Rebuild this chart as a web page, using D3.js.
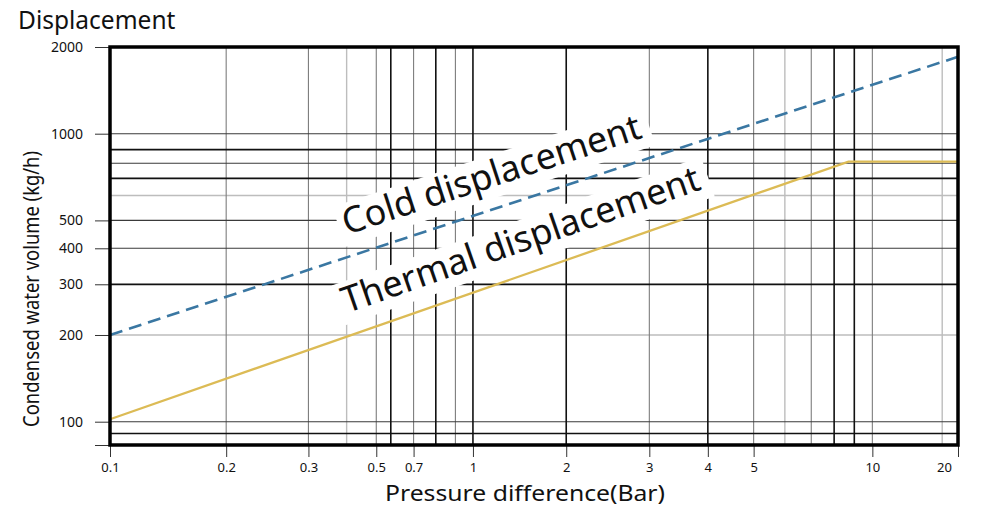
<!DOCTYPE html>
<html>
<head>
<meta charset="utf-8">
<title>Displacement</title>
<script src="https://cdn.jsdelivr.net/npm/d3@7"></script>
<style>
  body { margin: 0; background: #fff; }
  svg text { font-family: "Noto Sans", "Open Sans", sans-serif; fill: #111; }
</style>
</head>
<body>
<svg id="chart" width="982" height="507"></svg>
<script>
// axis ticks
var xTicks = [0.1, 0.2, 0.3, 0.5, 0.7, 1, 2, 3, 4, 5, 10, 20];
var yTicks = [100, 200, 300, 400, 500, 1000, 2000];
var yMin = 83, yMax = 2000;

// grid lines as printed on the sheet (axis units)
var xGridLight = [0.4, 6, 17.6];
var xGridMid = [0.2, 0.3, 0.5, 0.7, 0.9, 3, 5, 7, 10];
var xGridBold = [0.57, 0.8, 1, 2, 4, 8, 9];
var yGridLight = [610, 200];
var yGridMid = [1000, 790, 500, 400, 100];
var yGridBold = [880, 700, 300, 91];

// series
var coldPressure = [0.1, 20];
var coldFlow = [200, 1850];
var thermalPressure = [0.1, 8.7, 20];
var thermalFlow = [102, 800, 800];

var plot = { left: 110, right: 958, top: 47, bottom: 445 };
plot.width = plot.right - plot.left;

var svg = d3.select("#chart");

// the printed pressure axis is a stretched log scale, so go piecewise through the ticks
var xStretch = [0, .137, .234, .314, .358, .428, .538, .636, .705, .759, .899, 1];
var x = d3.scaleLog()
  .domain(xTicks)
  .range(xStretch.map(function(f) { return plot.left + f * plot.width; }));

var y = d3.scaleLog()
  .domain([yMin, yMax])
  .range([plot.bottom, plot.top]);

// grid
var grid = svg.append("g").attr("class", "grid");
function vLines(vals, color, w) {
  grid.selectAll(null).data(vals).enter().append("line")
    .attr("x1", x).attr("x2", x)
    .attr("y1", plot.top).attr("y2", plot.bottom)
    .attr("stroke", color).attr("stroke-width", w);
}
function hLines(vals, color, w) {
  grid.selectAll(null).data(vals).enter().append("line")
    .attr("x1", plot.left).attr("x2", plot.right)
    .attr("y1", y).attr("y2", y)
    .attr("stroke", color).attr("stroke-width", w);
}
vLines(xGridLight, "#bdbdbd", 1.4);
hLines(yGridLight, "#bdbdbd", 1.6);
vLines(xGridMid, "#7d7d7d", 1.1);
hLines(yGridMid, "#3a3a3a", 1.1);
vLines(xGridBold, "#111", 1.6);
hLines(yGridBold, "#111", 1.7);

// axes
var yAxis = svg.append("g")
  .attr("transform", "translate(" + plot.left + ",0)")
  .call(d3.axisLeft(y)
    .tickValues([yMin].concat(yTicks))
    .tickFormat(function(d) { return d === yMin ? "" : d; })
    .tickSize(15).tickPadding(12));

var xAxis = svg.append("g")
  .attr("transform", "translate(0," + plot.bottom + ")")
  .call(d3.axisBottom(x)
    .tickValues(xTicks)
    .tickFormat(function(d) { return d; })
    .tickSize(12).tickPadding(6));

[yAxis, xAxis].forEach(function(a) {
  a.select(".domain").remove();
  a.attr("font-family", null).attr("font-size", 14);
  a.selectAll(".tick line").attr("stroke", "#333");
  a.selectAll(".tick text").attr("fill", "#111");
});
xAxis.attr("font-size", 13);
xAxis.selectAll(".tick text").filter(function(d) { return d === 20; }).attr("dx", -14);

// labels along the curves, with a white patch behind them
function angleOf(px, py) {
  return Math.atan2(y(py[1]) - y(py[0]), x(px[1]) - x(px[0])) * 180 / Math.PI;
}
function curveLabel(txt, px, py, ang) {
  var g = svg.append("g")
    .attr("transform", "translate(" + x(px) + "," + y(py) + ") rotate(" + ang + ")");
  var bg = g.append("rect").attr("fill", "#fff");
  var t = g.append("text")
    .attr("font-size", 36)
    .text(txt);
  var len = t.node().getComputedTextLength();
  bg.attr("x", -5).attr("y", -31).attr("width", len + 14).attr("height", 42);
}
curveLabel("Cold displacement", 0.4, 445, angleOf(coldPressure, coldFlow));
curveLabel("Thermal displacement", 0.4, 238, angleOf(thermalPressure, thermalFlow));

// curves
var line = d3.line()
  .x(function(d) { return x(d[0]); })
  .y(function(d) { return y(d[1]); });

svg.append("path")
  .datum(d3.zip(thermalPressure, thermalFlow))
  .attr("d", line)
  .attr("fill", "none")
  .attr("stroke", "#dcbb55")
  .attr("stroke-width", 2.3);

svg.append("path")
  .datum(d3.zip(coldPressure, coldFlow))
  .attr("d", line)
  .attr("fill", "none")
  .attr("stroke", "#3a77a2")
  .attr("stroke-width", 2.6)
  .attr("stroke-dasharray", "13,7");

// frame
svg.append("rect")
  .attr("x", plot.left).attr("y", plot.top)
  .attr("width", plot.width).attr("height", plot.bottom - plot.top)
  .attr("fill", "none")
  .attr("stroke", "#000")
  .attr("stroke-width", 3.5);

// titles
svg.append("text")
  .attr("x", 18).attr("y", 29)
  .attr("font-size", 24.5)
  .text("Displacement");

svg.append("text")
  .attr("transform", "translate(39,289) rotate(-90)")
  .attr("text-anchor", "middle")
  .attr("font-size", 22)
  .attr("textLength", 276)
  .attr("lengthAdjust", "spacingAndGlyphs")
  .text("Condensed water volume (kg/h)");

svg.append("text")
  .attr("x", 525).attr("y", 501)
  .attr("text-anchor", "middle")
  .attr("font-size", 21.5)
  .attr("textLength", 280)
  .attr("lengthAdjust", "spacingAndGlyphs")
  .text("Pressure difference(Bar)");
</script>
</body>
</html>
